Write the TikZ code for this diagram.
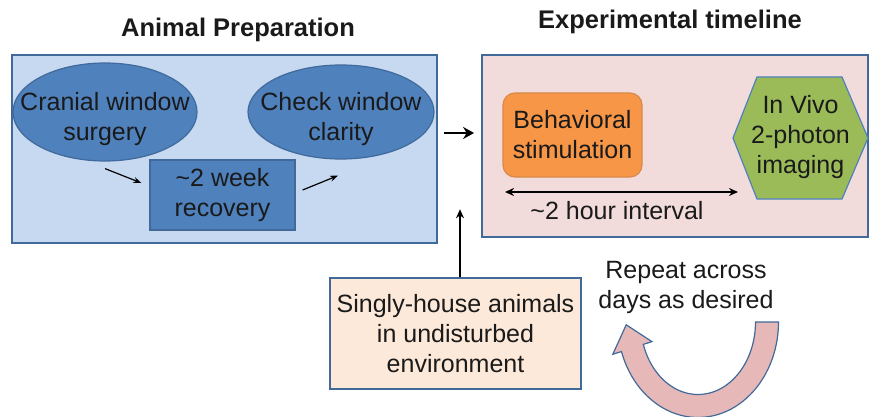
\documentclass[tikz,border=0pt]{standalone}
\usepackage{fontspec}
\setmainfont{Liberation Sans}
\usetikzlibrary{arrows.meta,shapes.geometric}
\definecolor{prepfill}{HTML}{C6D9F1}
\definecolor{edgeblue}{HTML}{41699A}
\definecolor{stepblue}{HTML}{4F81BD}
\definecolor{timefill}{HTML}{F2DCDB}
\definecolor{behavfill}{HTML}{F79646}
\definecolor{behavedge}{HTML}{D8894A}
\definecolor{imgfill}{HTML}{9BBB59}
\definecolor{housefill}{HTML}{FDE9D9}
\definecolor{loopfill}{HTML}{E6B9B8}
\definecolor{inkgrey}{HTML}{1A1A1A}
\newcommand{\prepoval}[4][]{\node[ellipse,draw=edgeblue,fill=stepblue,line width=1.2pt,inner sep=-20pt,align=center,#1] at (#2) (#3) {\rule{0pt}{32pt}#4}}

\begin{document}
\begin{tikzpicture}[x=1pt,y=-1pt,
    font=\fontsize{25}{30}\selectfont, text=inkgrey,
    panel/.style={draw=edgeblue,line width=1.8pt,inner sep=0pt},
    thinarrow/.style={-{Stealth[length=8pt,width=6pt]},line width=1.2pt},
    boldarrow/.style={-{Stealth[length=11pt,width=12pt]},line width=2.8pt}]
  \useasboundingbox (0,0) rectangle (870,417);
  % headings
  \node[font=\fontsize{25.5}{30}\selectfont\bfseries] at (238,30) (prephead) {Animal Preparation};
  \node[font=\fontsize{25.5}{30}\selectfont\bfseries] at (670,22) (timehead) {Experimental timeline};
  % panels
  \node[panel,fill=prepfill,minimum width=425pt,minimum height=188pt] at (224.5,149) (prep) {};
  \node[panel,fill=timefill,minimum width=386pt,minimum height=182pt] at (675,146) (timeline) {};
  % animal preparation
  \prepoval[minimum width=184pt,minimum height=98pt]{105,112}{surgery}{Cranial window\\surgery};
  \prepoval[minimum width=186pt,minimum height=94pt]{341,112}{clarity}{Check window\\clarity};
  \node[draw=edgeblue,fill=stepblue,line width=1.2pt,align=center,
        minimum width=145pt,minimum height=70pt,inner sep=0pt] at (222.5,195) (recovery) {\textasciitilde 2 week\\recovery};
  \draw[thinarrow] ([yshift=-7pt]surgery.south) -- ([xshift=-8pt,yshift=12pt]recovery.west);
  \draw[thinarrow] ([xshift=7pt,yshift=5pt]recovery.east) -- ([xshift=-3pt,yshift=-16pt]clarity.south);
  \draw[boldarrow] ([xshift=6pt,yshift=16pt]prep.east) -- ([xshift=-7pt,yshift=13pt]timeline.west);
  % experimental timeline
  \node[draw=behavedge,fill=behavfill,line width=1.2pt,rounded corners=12pt,align=center,
        minimum width=139pt,minimum height=84pt,inner sep=0pt] at (572.5,135) (behav) {Behavioral\\stimulation};
  \filldraw[draw=stepblue,fill=imgfill,line width=1.2pt]
    (733,138) -- (757,77) -- (842,77) -- (868,138) -- (842,199) -- (757,199) -- cycle;
  \node[align=center] at (800.5,137) (imaging) {In Vivo\\2-photon\\imaging};
  \coordinate (gap-a) at (505,192);
  \coordinate (gap-b) at (738,192);
  \draw[{Stealth[length=9pt,width=8pt]}-{Stealth[length=9pt,width=8pt]},line width=1.5pt] (gap-a) -- (gap-b);
  \node at (617,211) (gaplabel) {\textasciitilde 2 hour interval};
  % housing
  \node[draw=edgeblue,fill=housefill,line width=1.5pt,align=center,
        minimum width=251pt,minimum height=111pt,inner sep=0pt] at (455.5,333.5) (house) {Singly-house animals\\in undisturbed\\environment};
  \draw[-{Stealth[length=9pt,width=8pt]},line width=1.5pt] ([xshift=4.5pt]house.north) -- ([xshift=4.5pt,yshift=68pt]house.north);
  % repeat loop
  \node[align=center] at (686,287) (repeat) {Repeat across\\days as desired};
  \filldraw[draw=edgeblue,fill=loopfill,line width=1.2pt]
    plot[domain=0:162,samples=50] ({698+80.5*cos(\x)},{322+95.5*sin(\x)})
    -- (612.8,354.3) -- (626.2,324.8) -- (651.9,341.6)
    -- plot[domain=162:0,samples=50] ({698+57.5*cos(\x)},{322+72.5*sin(\x)}) -- cycle;
\end{tikzpicture}
\end{document}
